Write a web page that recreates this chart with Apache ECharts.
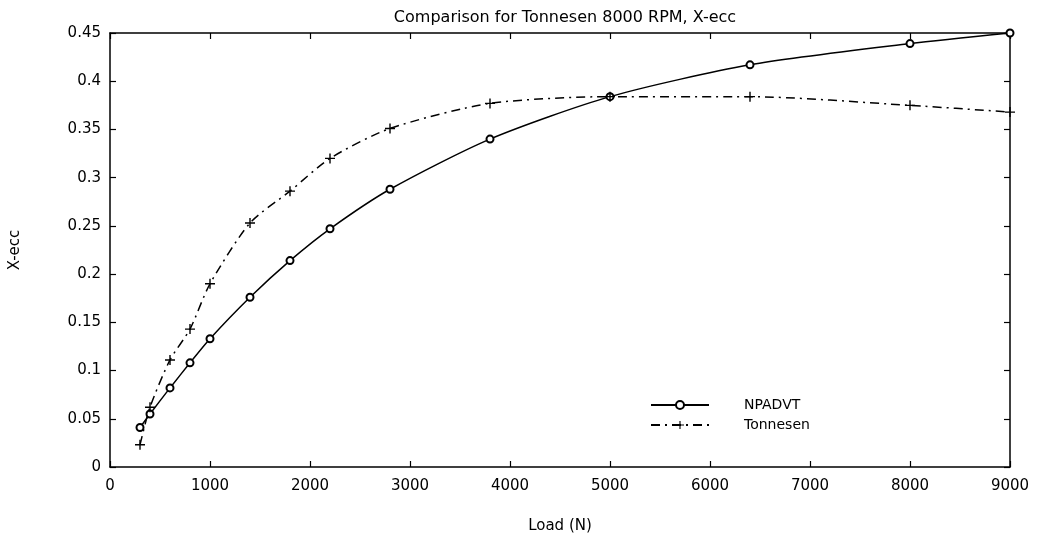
<!DOCTYPE html>
<html>
<head>
<meta charset="utf-8">
<script src="https://cdn.jsdelivr.net/npm/echarts@6/dist/echarts.min.js"></script>
<style>
  html, body { margin: 0; padding: 0; background: #fff; }
  #chart { width: 1042px; height: 541px; }
</style>
</head>
<body>
<div id="chart"></div>
<script>
  // load (N) and eccentricity values
  const npadvtLoad = [300, 400, 600, 800, 1000, 1400, 1800, 2200, 2800, 3800, 5000, 6400, 8000, 9000];
  const npadvtEcc = [0.041, 0.055, 0.082, 0.108, 0.133, 0.176, 0.214, 0.247, 0.288, 0.340, 0.384, 0.417, 0.439, 0.450];
  const tonnLoad = [300, 400, 600, 800, 1000, 1400, 1800, 2200, 2800, 3800, 5000, 6400, 8000, 9000];
  const tonnEcc = [0.023, 0.062, 0.111, 0.143, 0.190, 0.253, 0.286, 0.320, 0.351, 0.377, 0.384, 0.384, 0.375, 0.368];
  const xTicks = [0, 9000, 1000];
  const yTicks = [0, 0.45, 0.05];

  const font = '"DejaVu Sans", sans-serif';
  const plus = 'path://M4.3,0H5.7V4.3H10V5.7H5.7V10H4.3V5.7H0V4.3H4.3Z';

  const toPairs = (xs, ys) => xs.map((x, i) => [x, ys[i]]);

  const axisLine = { show: true, onZero: false, lineStyle: { color: '#000', width: 1.5 } };
  const axisTick = { show: true, inside: true, length: 6, lineStyle: { color: '#000', width: 1.2 } };

  const option = {
    backgroundColor: '#fff',
    animation: false,
    title: {
      text: 'Comparison for Tonnesen 8000 RPM, X-ecc',
      left: 560, top: 5, textAlign: 'center',
      textStyle: { fontFamily: font, fontSize: 16, fontWeight: 'normal', color: '#000' }
    },
    grid: { left: 110, right: 32, top: 33, bottom: 74 },
    legend: {
      orient: 'vertical',
      left: 645, top: 393,
      itemWidth: 58, itemHeight: 10, itemGap: 6,
      textStyle: { fontFamily: font, fontSize: 14, color: '#000', padding: [0, 0, 0, 30] },
      data: ['NPADVT', 'Tonnesen']
    },
    xAxis: [
      {
        type: 'value', min: xTicks[0], max: xTicks[1], interval: xTicks[2], position: 'bottom',
        axisLine: axisLine, axisTick: axisTick, splitLine: { show: false },
        name: 'Load (N)', nameLocation: 'middle', nameGap: 52,
        nameTextStyle: { fontFamily: font, fontSize: 15, color: '#000' },
        axisLabel: { fontFamily: font, fontSize: 15, color: '#000', margin: 12, formatter: v => String(v) }
      },
      {
        type: 'value', min: xTicks[0], max: xTicks[1], interval: xTicks[2], position: 'top',
        axisLine: axisLine, axisTick: axisTick, splitLine: { show: false },
        axisLabel: { show: false }
      }
    ],
    yAxis: [
      {
        type: 'value', min: yTicks[0], max: yTicks[1], interval: yTicks[2], position: 'left',
        axisLine: axisLine, axisTick: axisTick, splitLine: { show: false },
        name: 'X-ecc', nameLocation: 'middle', nameGap: 87,
        nameTextStyle: { fontFamily: font, fontSize: 15, color: '#000' },
        axisLabel: { fontFamily: font, fontSize: 15, color: '#000', margin: 9 }
      },
      {
        type: 'value', min: yTicks[0], max: yTicks[1], interval: yTicks[2], position: 'right',
        axisLine: axisLine, axisTick: axisTick, splitLine: { show: false },
        axisLabel: { show: false }
      }
    ],
    series: [
      {
        name: 'NPADVT',
        type: 'line',
        data: toPairs(npadvtLoad, npadvtEcc),
        smooth: 0.25,
        symbol: 'emptyCircle',
        symbolSize: 7,
        showAllSymbol: true,
        lineStyle: { color: '#000', width: 1.5 },
        itemStyle: { color: '#000', borderColor: '#000', borderWidth: 1.5 }
      },
      {
        name: 'Tonnesen',
        type: 'line',
        data: toPairs(tonnLoad, tonnEcc),
        smooth: 0.25,
        symbol: plus,
        symbolSize: 10,
        showAllSymbol: true,
        lineStyle: { color: '#000', width: 1.5, type: [9, 5, 2, 5] },
        itemStyle: { color: '#000' }
      }
    ]
  };

  const chart = echarts.init(document.getElementById('chart'));
  chart.setOption(option);
</script>
</body>
</html>
